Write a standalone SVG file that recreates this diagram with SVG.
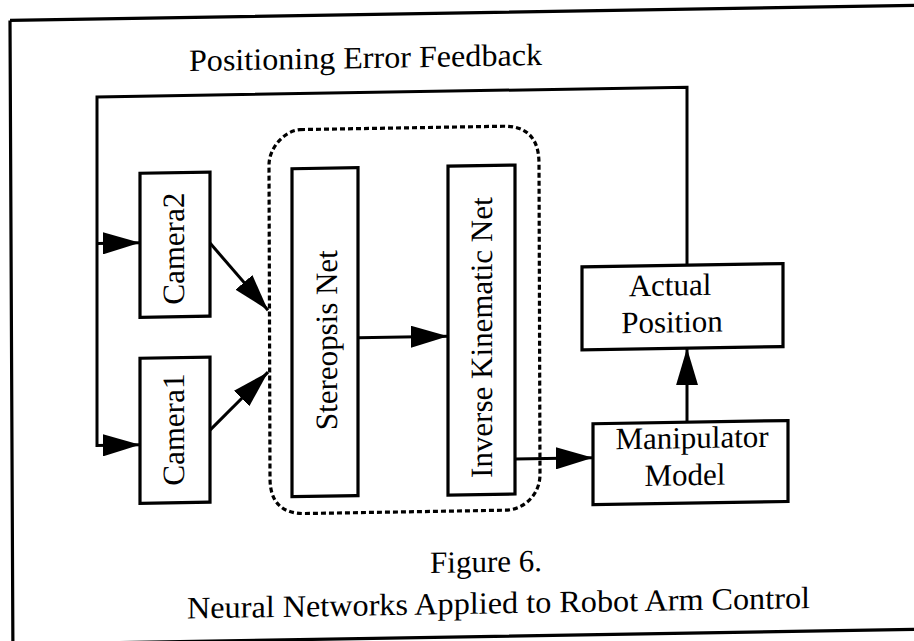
<svg xmlns="http://www.w3.org/2000/svg" width="914" height="641" viewBox="0 0 914 641">
<style>
  .box{fill:#fff;stroke:#000;stroke-width:3.2}
  .ln{fill:none;stroke:#000;stroke-width:3}
  .t{font-family:"Liberation Serif","Times New Roman",serif;font-size:31px;fill:#000}
  .m{text-anchor:middle}
</style>
<defs>
  <marker id="ah" markerUnits="userSpaceOnUse" markerWidth="38" markerHeight="22" refX="37" refY="11" orient="auto">
    <path d="M0,0 L37,11 L0,22 z" fill="#000"/>
  </marker>
</defs>
<rect width="914" height="641" fill="#fff"/>
<g transform="translate(457,0) skewY(-0.95) translate(-457,0)">
  <g id="frame">
    <path d="M10,13 L930,13 M10,13 L13,660 M0,637 L930,637" fill="none" stroke="#000" stroke-width="3.2"/>
  </g>
  <text class="t m" x="365.5" y="66.5" textLength="353" lengthAdjust="spacingAndGlyphs">Positioning Error Feedback</text>

  <g id="group-nets">
    <path d="M300,127 L503,127 Q539,127 539,165 L540,476 C540,495 525,511 505,511 L305,511 Q270,511 270,475 L269,162 C269,145 284,128 300,127 Z" fill="none" stroke="#000" stroke-width="3.2" stroke-dasharray="5 3"/>
  </g>

  <g id="connectors">
    <path class="ln" d="M687,269 L687,91 L97,91 L97,439.5 L140,439.5" marker-end="url(#ah)"/>
    <path class="ln" d="M97,237.5 L140,237.5" marker-end="url(#ah)"/>
    <path class="ln" d="M210,239 L268,307" marker-end="url(#ah)"/>
    <path class="ln" d="M210,426 L268,369" marker-end="url(#ah)"/>
    <path class="ln" d="M358,336 L448,336" marker-end="url(#ah)"/>
    <path class="ln" d="M515,460 L593,460" marker-end="url(#ah)"/>
    <path class="ln" d="M687,426 L687,352" marker-end="url(#ah)"/>
  </g>

  <g id="camera2">
    <rect class="box" x="140" y="168" width="70" height="144"/>
    <text class="t m" x="184" y="244" transform="rotate(-90 184 244)">Camera2</text>
  </g>
  <g id="camera1">
    <rect class="box" x="140" y="353" width="70" height="145"/>
    <text class="t m" x="184" y="425" transform="rotate(-90 184 425)">Camera1</text>
  </g>
  <g id="stereopsis">
    <rect class="box" x="292" y="166" width="66" height="328"/>
    <text class="t m" x="337" y="338" transform="rotate(-90 337 338)">Stereopsis Net</text>
  </g>
  <g id="inverse-kinematic">
    <rect class="box" x="448" y="166" width="67" height="329"/>
    <text class="t m" x="492" y="338" transform="rotate(-90 492 338)">Inverse Kinematic Net</text>
  </g>
  <g id="actual-position">
    <rect class="box" x="582" y="269" width="201" height="83"/>
    <text class="t m" x="670" y="299">Actual</text>
    <text class="t m" x="672" y="336">Position</text>
  </g>
  <g id="manipulator">
    <rect class="box" x="593" y="426" width="195" height="81"/>
    <text class="t m" x="692" y="452">Manipulator</text>
    <text class="t m" x="685" y="489">Model</text>
  </g>

  <text class="t m" x="486" y="572.5">Figure 6.</text>
  <text class="t m" x="498.5" y="614" textLength="623" lengthAdjust="spacingAndGlyphs">Neural Networks Applied to Robot Arm Control</text>
</g>
</svg>
